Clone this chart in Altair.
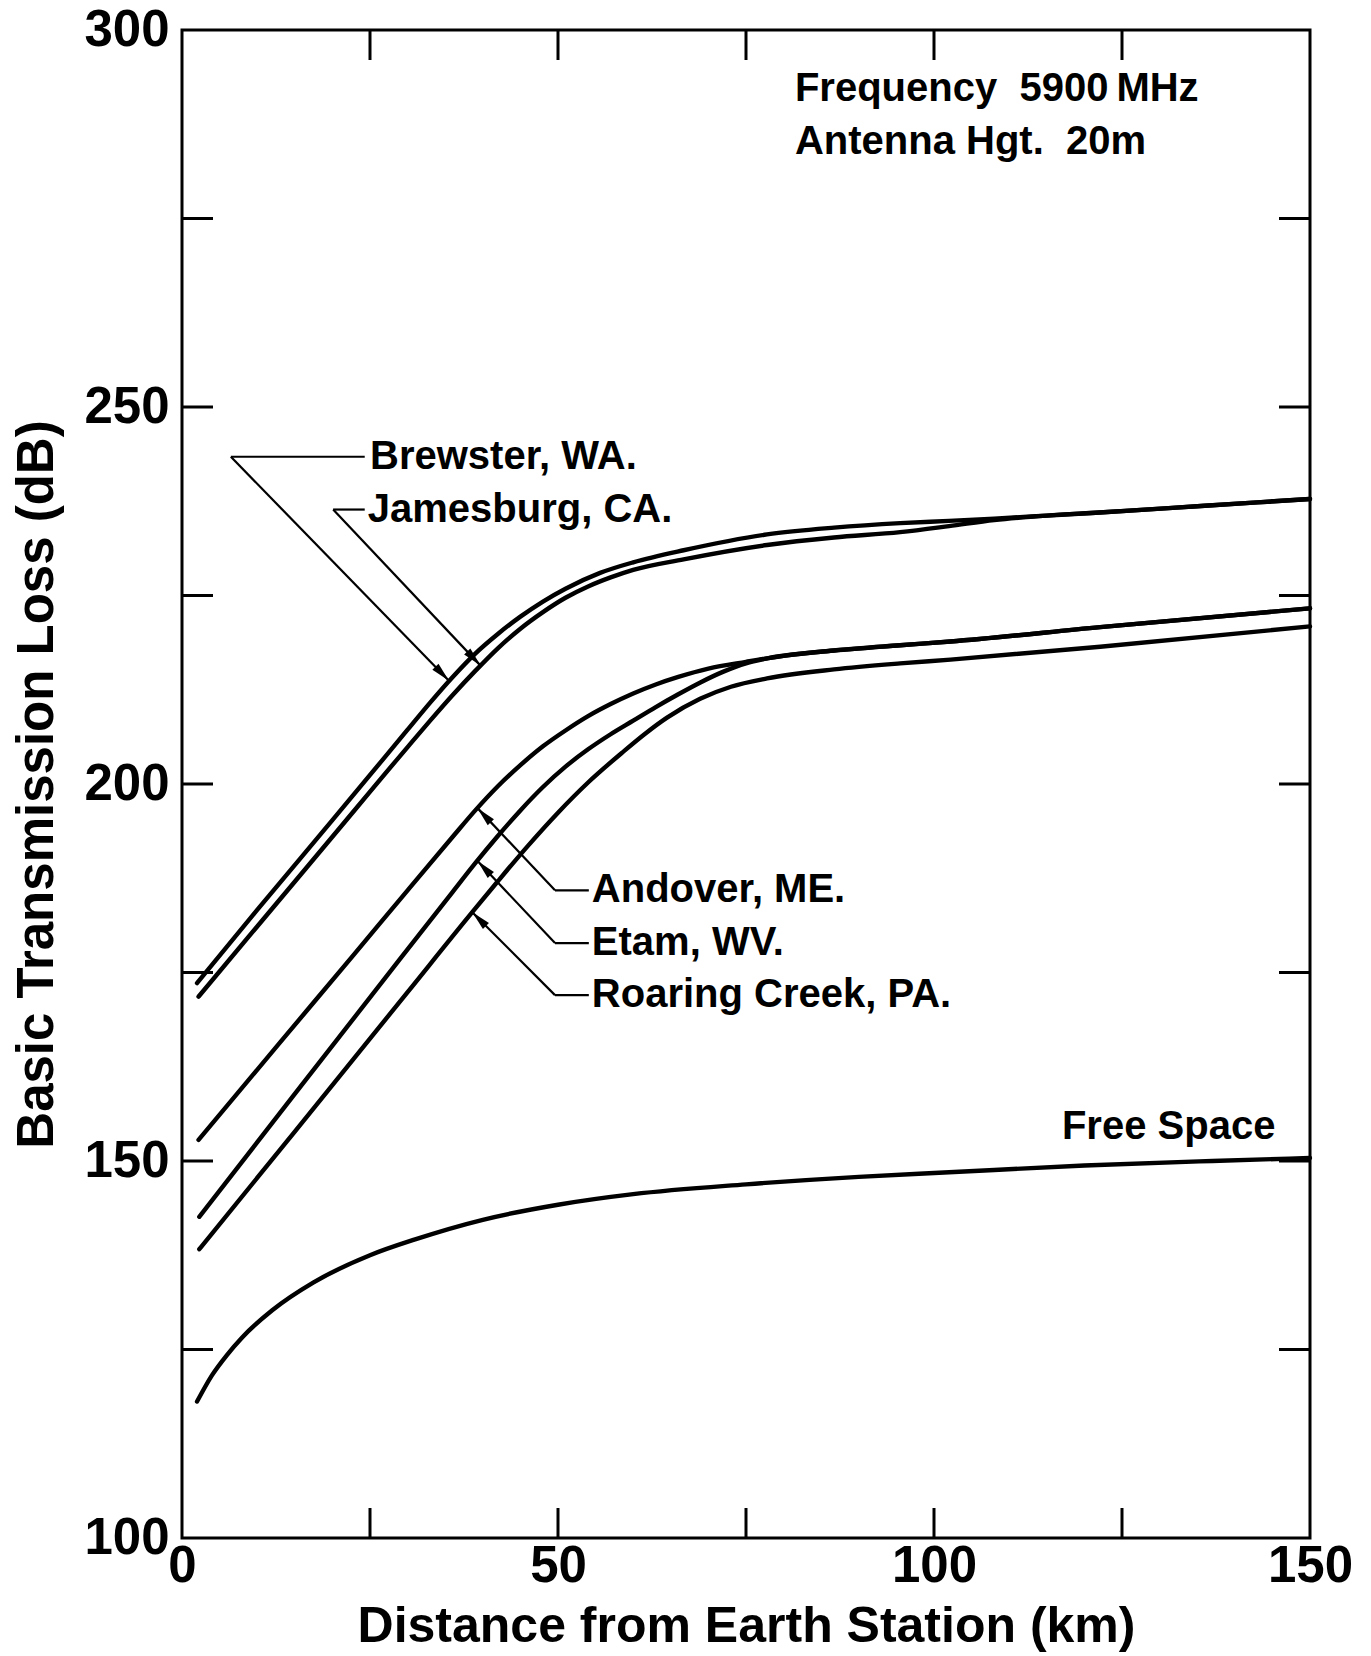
import math
import altair as alt
import pandas as pd

FONT = "Liberation Sans"

# ---------------- data ----------------
brewster_km = [2.0, 10, 20, 30, 33, 36, 39, 42, 45, 48, 51, 55.6, 60, 66.7, 77.8, 86.7, 95.5, 102, 108, 115, 122, 136, 150]
brewster_db = [173.6, 183.3, 195.2, 207.2, 210.8, 214.2, 217.3, 219.9, 222.2, 224.2, 225.9, 228.0, 229.4, 231.0, 233.1, 234.0, 234.6, 234.9, 235.2, 235.6, 236.0, 236.9, 237.8]

jamesburg_km = [2.2, 10, 20, 30, 33, 36, 39, 42, 45, 48, 51, 54, 57, 60, 66.7, 77.8, 86.7, 95.5, 102, 108, 115, 122, 136, 150]
jamesburg_db = [171.8, 181.1, 193.0, 204.9, 208.4, 211.8, 215.0, 218.0, 220.6, 222.8, 224.7, 226.2, 227.4, 228.4, 229.8, 231.7, 232.7, 233.4, 234.2, 235.0, 235.6, 236.0, 236.9, 237.8]

andover_km = [2.2, 13.1, 22.8, 30, 36, 39, 42, 45, 48, 51, 54, 57, 60, 63, 66, 70, 75, 80, 86.7, 95.5, 102.2, 122.1, 150]
andover_db = [152.8, 165.8, 177.3, 185.9, 193.0, 196.5, 199.7, 202.5, 205.0, 207.1, 209.0, 210.6, 212.0, 213.2, 214.2, 215.3, 216.2, 217.0, 217.7, 218.4, 218.9, 220.8, 223.3]

etam_km = [2.3, 15, 29, 36, 39, 42, 45, 48, 51, 54, 57, 60, 63, 66, 69, 72, 75, 78, 86.7, 95.5, 102.2, 122.1, 150]
etam_db = [142.6, 158.9, 176.8, 185.7, 189.5, 193.1, 196.5, 199.6, 202.3, 204.6, 206.6, 208.4, 210.2, 211.9, 213.5, 214.9, 216.0, 216.7, 217.7, 218.4, 218.9, 220.8, 223.3]

roaring_km = [2.3, 15, 30, 38.6, 42, 46, 50, 54, 58.7, 61.5, 64.5, 68.9, 73, 77.8, 86.7, 95.5, 102.2, 122.1, 150]
roaring_db = [138.3, 153.9, 172.4, 183.0, 187.1, 191.8, 196.2, 200.2, 204.3, 206.6, 208.8, 211.3, 212.9, 214.0, 215.2, 216.0, 216.5, 218.2, 220.9]

free_km = [2, 4, 6, 8, 12, 17.5, 25, 31, 40, 50, 60, 75, 90, 102, 120, 137, 150]
free_db = [118.1, 121.6, 124.3, 126.6, 130.2, 133.9, 137.5, 139.6, 142.2, 144.2, 145.6, 146.9, 147.9, 148.5, 149.4, 150.0, 150.4]

# annotation leaders: label, corner (km, dB), end of horizontal stub (km), arrow tip (km, dB), text start (km)
ann_labels = ["Brewster, WA.", "Jamesburg, CA.", "Andover, ME.", "Etam, WV.", "Roaring Creek, PA."]
ann_corner_km = [6.5, 20.1, 49.6, 49.6, 49.6]
ann_corner_db = [243.4, 236.4, 185.9, 178.9, 172.0]
ann_stub_km = [24.3, 24.3, 54.1, 54.1, 54.1]
ann_tip_km = [35.5, 39.7, 39.3, 39.3, 38.6]
ann_tip_db = [213.7, 215.7, 196.8, 189.8, 183.0]
ann_text_km = [25.0, 24.7, 54.5, 54.5, 54.5]

note_lines = ["Frequency\u00a0\u00a05900\u2009MHz", "Antenna Hgt.\u00a0\u00a020m"]
note_km = [81.5, 81.5]
note_db = [292.2, 285.2]

free_label = "Free Space"
free_label_km = 145.4
free_label_db = 154.5

x_domain = [0, 150]
y_domain = [100, 300]
x_tick_values = [25, 50, 75, 100, 125]
y_tick_values = [125, 150, 175, 200, 225, 250, 275]
x_label_values = [0, 50, 100, 150]
y_label_values = [100, 150, 200, 250, 300]

# ---------------- layout ----------------
W, H = 1128, 1508
PAD = {"left": 182, "top": 30, "right": 61, "bottom": 118}

series = [
    ("Brewster", brewster_km, brewster_db),
    ("Jamesburg", jamesburg_km, jamesburg_db),
    ("Andover", andover_km, andover_db),
    ("Etam", etam_km, etam_db),
    ("Roaring", roaring_km, roaring_db),
    ("Free", free_km, free_db),
]
rows = []
for name, ks, ds in series:
    for i, (k, d) in enumerate(zip(ks, ds)):
        rows.append({"name": name, "km": k, "db": d, "i": i})
curves = pd.DataFrame(rows)

xscale = alt.Scale(domain=x_domain, nice=False, zero=False)
yscale = alt.Scale(domain=y_domain, nice=False, zero=False)
xaxis = alt.Axis(values=x_label_values, ticks=False, domain=False, grid=False,
                 labelFlush=False, labelOverlap=False, labelPadding=3,
                 title="Distance from Earth Station (km)", titleX=W / 2, titleY=88,
                 titleBaseline="middle", titleAlign="center", titleFontSize=50)
yaxis = alt.Axis(values=y_label_values, ticks=False, domain=False, grid=False,
                 labelOverlap=False, labelPadding=13, labelBaseline="middle",
                 title="Basic Transmission Loss (dB)", titleX=-145, titleY=H / 2,
                 titleBaseline="middle", titleAlign="center", titleAngle=-90)

X = alt.X("km:Q", scale=xscale, axis=xaxis)
Y = alt.Y("db:Q", scale=yscale, axis=yaxis)

curve_layer = alt.Chart(curves).mark_line(
    color="black", strokeWidth=4.4, interpolate="monotone", strokeCap="round"
).encode(x=X, y=Y, detail="name:N", order="i:Q")

# inward ticks on all four sides
tick_rows = []
for v in y_tick_values:
    tick_rows.append({"km": x_domain[0], "db": v})
    tick_rows.append({"km": x_domain[1], "db": v})
ticks_h = pd.DataFrame(tick_rows)
trows = []
for v in x_tick_values:
    trows.append({"km": v, "db": y_domain[0]})
    trows.append({"km": v, "db": y_domain[1]})
ticks_v = pd.DataFrame(trows)

tick_h_layer = alt.Chart(ticks_h).mark_tick(
    orient="horizontal", size=62, thickness=3, color="black", opacity=1, clip=True
).encode(x=X, y=Y)
tick_v_layer = alt.Chart(ticks_v).mark_tick(
    orient="vertical", size=60, thickness=3, color="black", opacity=1, clip=True
).encode(x=X, y=Y)

# leader lines
lead_rows = []
arrow_rows = []
for lab, ck, cd, sk, tk, td in zip(ann_labels, ann_corner_km, ann_corner_db,
                                   ann_stub_km, ann_tip_km, ann_tip_db):
    lead_rows.append({"km": ck, "db": cd, "km2": sk, "db2": cd})
    lead_rows.append({"km": ck, "db": cd, "km2": tk, "db2": td})
    dx = (tk - ck) * W / (x_domain[1] - x_domain[0])
    dy = -(td - cd) * H / (y_domain[1] - y_domain[0])
    ang = math.degrees(math.atan2(dx, -dy)) % 360
    arrow_rows.append({"km": tk, "db": td, "ang": ang})
leads = pd.DataFrame(lead_rows)
arrows = pd.DataFrame(arrow_rows)

lead_layer = alt.Chart(leads).mark_rule(color="black", strokeWidth=2.2).encode(
    x=X, y=Y, x2="km2:Q", y2="db2:Q")

arrow_layer = alt.Chart(arrows).mark_point(
    shape="M0,0L0.22,1L-0.22,1Z", filled=True, color="black", opacity=1, size=1500
).encode(x=X, y=Y, angle=alt.Angle("ang:Q", scale=None))

TEXT_STYLE = dict(font=FONT, fontSize=40, fontWeight="bold", color="black", baseline="middle")

ann_text = pd.DataFrame({"km": ann_text_km, "db": ann_corner_db, "t": ann_labels})
ann_text_layer = alt.Chart(ann_text).mark_text(align="left", **TEXT_STYLE).encode(
    x=X, y=Y, text="t:N")

notes = pd.DataFrame({"km": note_km, "db": note_db, "t": note_lines})
note_layer = alt.Chart(notes).mark_text(align="left", **TEXT_STYLE).encode(
    x=X, y=Y, text="t:N")

free_df = pd.DataFrame({"km": [free_label_km], "db": [free_label_db], "t": [free_label]})
free_layer = alt.Chart(free_df).mark_text(align="right", **TEXT_STYLE).encode(
    x=X, y=Y, text="t:N")

chart = alt.layer(
    curve_layer, tick_h_layer, tick_v_layer, lead_layer, arrow_layer,
    ann_text_layer, note_layer, free_layer
).properties(
    width=W, height=H,
    autosize=alt.AutoSizeParams(type="none"),
    padding=PAD,
    background="white",
).configure_view(
    stroke="black", strokeWidth=3
).configure_axis(
    labelFont=FONT, titleFont=FONT, labelFontSize=51, titleFontSize=51,
    labelFontWeight="bold", titleFontWeight="bold",
    labelColor="black", titleColor="black"
)

chart.save("out.html", embed_options={"renderer": "svg", "actions": False})
